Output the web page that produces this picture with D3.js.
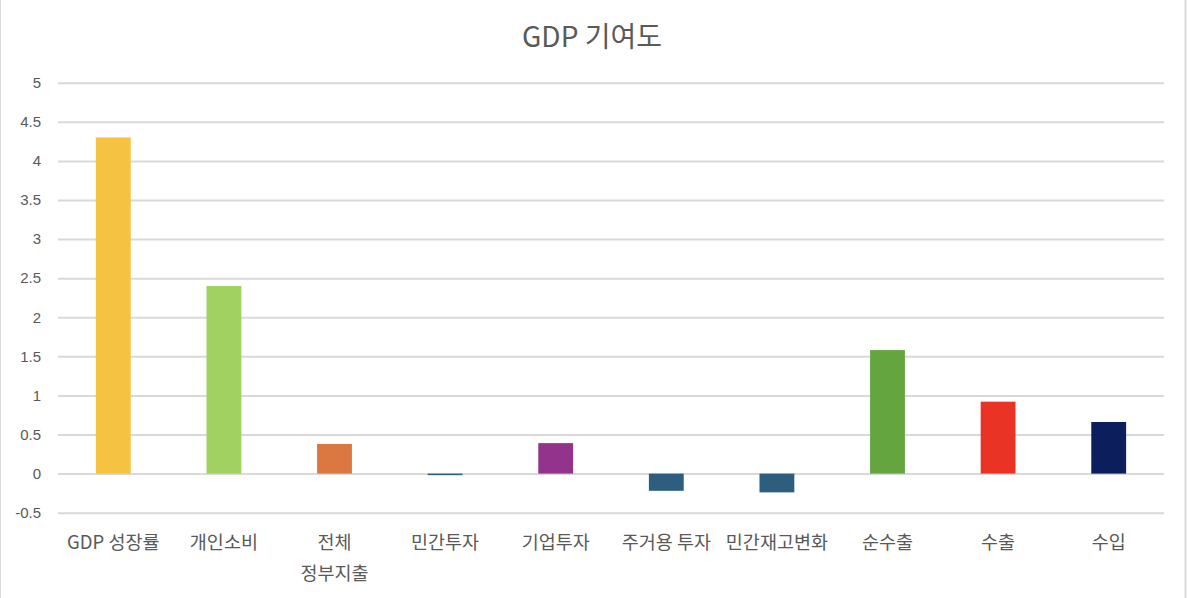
<!DOCTYPE html>
<html>
<head>
<meta charset="utf-8">
<script src="https://cdn.jsdelivr.net/npm/d3@7"></script>
<style>
  body { margin: 0; background: #fff; }
  svg { display: block; }
</style>
</head>
<body>
<div id="chart"></div>
<script>
// GDP 기여도 (percentage points)
const categories = ['GDP 성장률', '개인소비', '전체\n정부지출', '민간투자', '기업투자', '주거용 투자', '민간재고변화', '순수출', '수출', '수입']
const values = [4.3, 2.4, 0.38, -0.02, 0.39, -0.22, -0.24, 1.58, 0.92, 0.66]
const barColors = ['#F5C242', '#A1D160', '#DB7842', '#2E5E7E', '#93338C', '#2E5E7E', '#2E5E7E', '#64A540', '#E93425', '#0C1F5C']
const yTicks = [-0.5, 0, 0.5, 1, 1.5, 2, 2.5, 3, 3.5, 4, 4.5, 5]

const W = 1188, H = 598
const margin = { top: 82.7, right: 24, bottom: 85.3, left: 58 }
const width = W - margin.left - margin.right
const height = H - margin.top - margin.bottom
const fontFam = '"Liberation Sans", "Noto Sans CJK KR", sans-serif'

const svg = d3.select('#chart').append('svg')
    .attr('width', W)
    .attr('height', H)

// sheet borders
svg.append('line').attr('x1', 0.5).attr('x2', 0.5).attr('y1', 0).attr('y2', H)
    .style('stroke', '#d9d9d9')
svg.append('line').attr('x1', 1185.5).attr('x2', 1185.5).attr('y1', 0).attr('y2', H)
    .style('stroke', '#d9d9d9').style('stroke-width', 2)

svg.append('text')
    .attr('x', 592)
    .attr('y', 47)
    .attr('text-anchor', 'middle')
    .style('font-family', '"Noto Sans CJK KR", sans-serif')
    .style('font-size', '28px')
    .style('fill', '#595959')
    .text('GDP 기여도')

const g = svg.append('g')
    .attr('transform', 'translate(' + margin.left + ',' + margin.top + ')')

const x = d3.scaleBand()
    .domain(categories)
    .range([0, width])
    .paddingInner(0.685)
    .paddingOuter(0.3425)

const y = d3.scaleLinear()
    .domain([-0.5, 5])
    .range([height, 0])

// gridlines + y labels
const yAxis = g.append('g')
    .call(d3.axisLeft(y).tickValues(yTicks).tickSize(-width).tickPadding(17).tickFormat(d => String(d)))
yAxis.select('.domain').remove()
yAxis.selectAll('.tick line').style('stroke', '#d9d9d9').style('stroke-width', 2)
yAxis.selectAll('.tick text')
    .style('font-family', fontFam)
    .style('font-size', '15px')
    .style('fill', '#595959')

// bars
g.selectAll('rect.bar')
    .data(values)
    .enter().append('rect')
    .attr('class', 'bar')
    .attr('x', (d, i) => x(categories[i]))
    .attr('width', x.bandwidth())
    .attr('y', d => y(Math.max(0, d)))
    .attr('height', d => Math.max(1.5, Math.abs(y(d) - y(0))))
    .style('fill', (d, i) => barColors[i])

// category labels
const labels = g.selectAll('text.cat')
    .data(categories)
    .enter().append('text')
    .attr('class', 'cat')
    .attr('text-anchor', 'middle')
    .attr('transform', d => 'translate(' + (x(d) + x.bandwidth() / 2) + ',' + (height + 36) + ')')
    .style('font-family', '"Noto Sans CJK KR", sans-serif')
    .style('font-size', '18.5px')
    .style('fill', '#595959')

labels.each(function (d) {
    const lines = d.split('\n')
    d3.select(this).selectAll('tspan')
        .data(lines)
        .enter().append('tspan')
        .attr('x', 0)
        .attr('y', (l, i) => i * 31)
        .text(l => l)
})
</script>
</body>
</html>
